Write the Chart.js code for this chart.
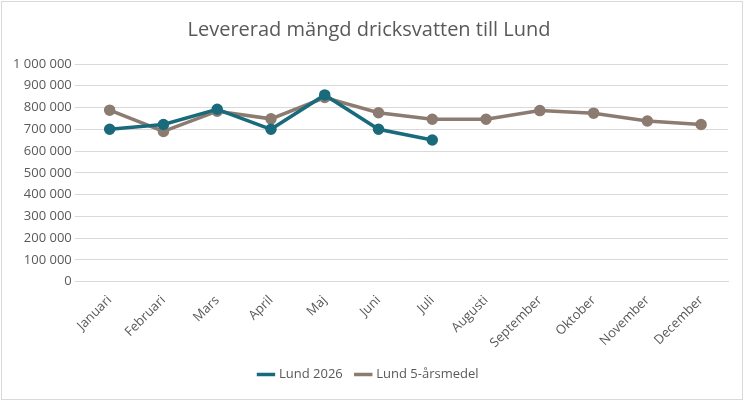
<!DOCTYPE html>
<html>
<head>
<meta charset="utf-8">
<script src="https://cdn.jsdelivr.net/npm/chart.js@4"></script>
<style>
  body { margin: 0; background: #fff; }
  #wrap { position: absolute; left: 1px; top: 1px; width: 742px; height: 399px; border: 1px solid #d9d9d9; box-sizing: border-box; }
</style>
</head>
<body>
<div id="wrap"><canvas id="c"></canvas></div>
<script>
// Månader och värden (m³)
const months = ['Januari', 'Februari', 'Mars', 'April', 'Maj', 'Juni', 'Juli', 'Augusti', 'September', 'Oktober', 'November', 'December'];
const lund2026 = [700000, 722000, 792000, 700000, 858000, 700000, 651000, null, null, null, null, null];
const lundMedel = [788000, 690000, 783000, 748000, 846000, 776000, 746000, 746000, 786000, 774000, 738000, 722000];

const fmt = v => v.toString().replace(/\B(?=(\d{3})+(?!\d))/g, ' ');

new Chart(document.getElementById('c'), {
    type: 'line',
    data: {
        labels: months,
        datasets: [{
            label: 'Lund 2026',
            data: lund2026,
            borderColor: '#196b7c',
            backgroundColor: '#196b7c',
            borderWidth: 3.5,
            pointRadius: 4,
            tension: 0
        }, {
            label: 'Lund 5-årsmedel',
            data: lundMedel,
            borderColor: '#8b7b70',
            backgroundColor: '#8b7b70',
            borderWidth: 3.5,
            pointRadius: 4,
            tension: 0
        }]
    },
    options: {
        responsive: true,
        maintainAspectRatio: false,
        animation: false,
        layout: { padding: { left: 8, right: 14, top: 8, bottom: 8 } },
        plugins: {
            title: {
                display: true,
                text: 'Levererad mängd dricksvatten till Lund',
                color: '#595959',
                font: { family: 'Open Sans', size: 20, weight: 'normal' },
                padding: { top: 8, bottom: 22 }
            },
            legend: {
                position: 'bottom',
                labels: {
                    color: '#595959',
                    font: { family: 'Open Sans', size: 13 },
                    usePointStyle: true,
                    pointStyle: 'line',
                    boxWidth: 36,
                    padding: 14
                }
            }
        },
        scales: {
            x: {
                offset: true,
                grid: { display: false },
                border: { color: '#d9d9d9' },
                ticks: { color: '#595959', font: { family: 'Open Sans', size: 13 }, maxRotation: 45, minRotation: 45 }
            },
            y: {
                min: 0,
                max: 1000000,
                ticks: { stepSize: 100000, color: '#595959', font: { family: 'Open Sans', size: 13 }, callback: v => fmt(v) },
                grid: { color: '#d9d9d9' },
                border: { display: false }
            }
        }
    }
});
</script>
</body>
</html>
